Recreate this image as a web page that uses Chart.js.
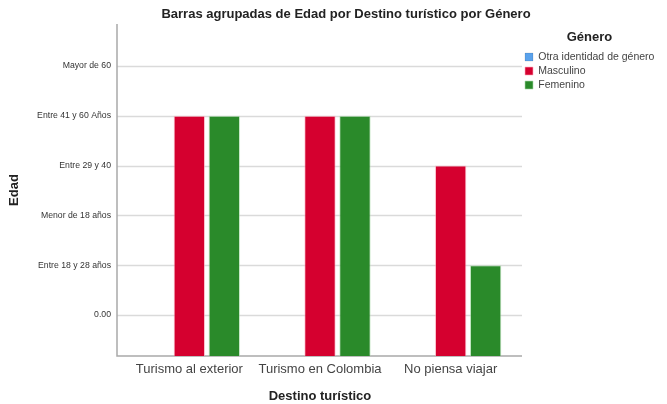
<!DOCTYPE html>
<html>
<head>
<meta charset="utf-8">
<script src="https://cdn.jsdelivr.net/npm/chart.js@4.4.0/dist/chart.umd.min.js"></script>
<style>
    html, body { margin: 0; padding: 0; background: #fff; }
    #wrap { width: 667px; height: 404px; }
</style>
</head>
<body>
<div id="wrap"><canvas id="edadChart" width="667" height="404"></canvas></div>
<script>
// Data
const destinos = ['Turismo al exterior', 'Turismo en Colombia', 'No piensa viajar'];
const edadLabels = ['0.00', 'Entre 18 y 28 años', 'Menor de 18 años', 'Entre 29 y 40', 'Entre 41 y 60 Años', 'Mayor de 60'];
const otraIdentidad = [null, null, null];
const masculino = [4, 4, 3];
const femenino = [4, 4, 1];

const yMin = -0.823;
const yMax = 5.843;
const FONT = "'Liberation Sans', Arial, sans-serif";

// Axis lines and grid lines that run a little past the plot area, like SPSS
const spssFrame = {
    id: 'spssFrame',
    beforeLayout(chart) {
        // legend takes the whole right column so the plot ends at the same place
        if (chart.legend && !chart.legend._wrapped) {
            const fit = chart.legend.fit;
            chart.legend.fit = function() {
                fit.call(this);
                this.width = 151;
            };
            chart.legend._wrapped = true;
        }
    },
    afterLayout(chart) {
        if (chart.titleBlock) {
            chart.titleBlock.left += 12.5;
            chart.titleBlock.right += 12.5;
        }
        if (chart.legend) {
            chart.legend.left += 5.5;
            chart.legend.width = 136;
            chart.legend.right = chart.legend.left + 136;
        }
    },
    beforeDatasetsDraw(chart) {
        const { ctx, chartArea } = chart;
        const y = chart.scales.y;
        const left = chartArea.left - 7;
        const right = chartArea.right + 6;
        ctx.save();
        ctx.strokeStyle = '#dadada';
        ctx.lineWidth = 1.5;
        for (let i = 0; i < edadLabels.length; i++) {
            const py = Math.round(y.getPixelForValue(i)) + 0.5;
            ctx.beginPath();
            ctx.moveTo(left, py);
            ctx.lineTo(right, py);
            ctx.stroke();
        }
        ctx.strokeStyle = '#a9a9a9';
        ctx.lineWidth = 1.5;
        ctx.beginPath();
        ctx.moveTo(left, chartArea.top);
        ctx.lineTo(left, chartArea.bottom);
        ctx.lineTo(right, chartArea.bottom);
        ctx.stroke();
        ctx.restore();
    }
};

const ctx = document.getElementById('edadChart').getContext('2d');
const chart = new Chart(ctx, {
    type: 'bar',
    data: {
        labels: destinos,
        datasets: [
            { label: 'Otra identidad de género', data: otraIdentidad, backgroundColor: '#5aa2ec' },
            { label: 'Masculino', data: masculino, backgroundColor: '#d5002f', borderColor: 'rgba(255,170,190,0.6)' },
            { label: 'Femenino', data: femenino, backgroundColor: '#2a8a2a', borderColor: 'rgba(170,220,170,0.6)' }
        ]
    },
    options: {
        responsive: false,
        animation: false,
        layout: { padding: 0 },
        datasets: {
            bar: {
                base: yMin,
                categoryPercentage: 0.803,
                barPercentage: 0.9,
                borderWidth: 1,
                borderSkipped: 'bottom'
            }
        },
        plugins: {
            title: {
                display: true,
                text: 'Barras agrupadas de Edad por Destino turístico por Género',
                color: '#222',
                font: { family: FONT, size: 13, weight: 'bold' },
                padding: { top: 7, bottom: 1.4 }
            },
            legend: {
                position: 'right',
                align: 'start',
                title: {
                    display: true,
                    text: 'Género',
                    color: '#222',
                    font: { family: FONT, size: 13, weight: 'bold' },
                    padding: { top: 31, bottom: 1.7 }
                },
                labels: {
                    color: '#444',
                    boxWidth: 8,
                    boxHeight: 8,
                    padding: 3.5,
                    font: { family: FONT, size: 10.5 }
                }
            },
            tooltip: { enabled: false }
        },
        scales: {
            x: {
                grid: { display: false, drawTicks: false },
                border: { display: false },
                ticks: {
                    color: '#444',
                    padding: 6,
                    font: { family: FONT, size: 13 }
                },
                title: {
                    display: true,
                    text: 'Destino turístico',
                    color: '#222',
                    font: { family: FONT, size: 13, weight: 'bold' },
                    padding: { top: 0, bottom: 0 }
                },
                afterFit(scale) { scale.height = 48; }
            },
            y: {
                min: yMin,
                max: yMax,
                grid: { display: false, drawTicks: false },
                border: { display: false },
                afterBuildTicks(scale) {
                    scale.ticks = edadLabels.map((l, i) => ({ value: i }));
                },
                ticks: {
                    color: '#333',
                    padding: 13,
                    font: { family: FONT, size: 8.7 },
                    callback: v => edadLabels[v]
                },
                title: {
                    display: true,
                    text: 'Edad',
                    color: '#222',
                    font: { family: FONT, size: 13, weight: 'bold' },
                    padding: { top: 7, bottom: 0 }
                },
                afterFit(scale) { scale.width = 124; }
            }
        }
    },
    plugins: [spssFrame]
});
</script>
</body>
</html>
